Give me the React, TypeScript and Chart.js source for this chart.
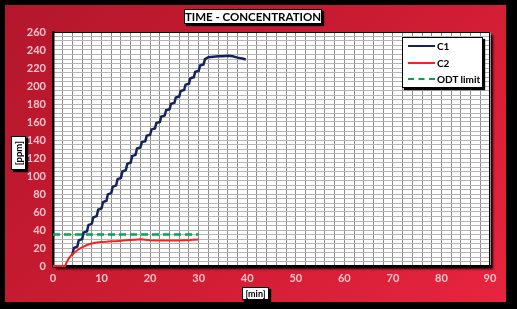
import React, { useEffect, useRef } from "react";
import { Chart, registerables } from "chart.js";

Chart.register(...registerables);

// ---- data ----
const c1Minutes = [
  3.8, 4.0, 4.3, 5.0, 5.3, 6.0, 6.3, 7.0, 7.3, 8.0, 8.3, 9.0, 9.3, 10.0, 10.3,
  11.0, 11.3, 12.0, 12.3, 13.0, 13.3, 14.0, 14.3, 15.0, 15.3, 16.0, 16.3, 17.0,
  17.3, 18.0, 18.3, 19.0, 19.3, 20.0, 20.3, 21.0, 21.3, 22.0, 22.3, 23.0, 23.3,
  24.0, 24.3, 25.0, 25.3, 26.0, 26.3, 27.0, 27.3, 28.0, 28.3, 29.0, 29.3, 30.0,
  30.3, 31.0, 31.3, 32.0, 33.0, 34.0, 35.0, 36.0, 37.0, 38.0, 39.0, 39.7,
];
const c1Ppm = [
  12, 13, 20, 21.5, 28.5, 30, 37, 38.5, 45.5, 47, 54, 55.5, 62.5, 64, 71,
  72.5, 79.5, 81, 88, 89.5, 96.5, 98, 105, 106.5, 113.5, 115, 122, 123.5,
  130.5, 131.6, 137.6, 138.7, 144.7, 145.8, 151.8, 152.9, 158.9, 160, 166, 167.1, 173.1,
  174.2, 180.2, 181.3, 187.3, 188.4, 194.4, 195.5, 201.5, 202.6, 208.6, 209.7, 215.7, 216.8,
  222.8, 223.9, 229.9, 232, 232.5, 233, 233, 233.5, 233, 231.5, 230.5, 229.5,
];
const c2Minutes = [
  0, 1, 2, 2.5, 2.8, 3.2, 3.6, 4.2, 5, 5.6, 6.3, 7, 8, 9, 10, 11, 12, 13, 14,
  15, 16, 17, 18, 19, 20, 21, 22, 23, 24, 25, 26, 27, 28, 29, 30,
];
const c2Ppm = [
  0, 0, 0, 0, 4, 8, 11, 14, 17.5, 19.6, 21.5, 23.3, 25, 26.2, 26.8, 27, 27.4,
  27.6, 28, 28.5, 28.9, 29.3, 29.6, 29.2, 28.6, 28.4, 28.3, 28.3, 28.2, 28.3,
  28.4, 28.5, 28.7, 29.3, 29.5,
];
const odtMinutes = [0, 30];
const odtPpm = [35, 35];

const seriesNames = ["C1", "C2", "ODT limit"];
const chartTitle = "TIME - CONCENTRATION";
const xTitle = "[min]";
const yTitle = "[ppm]";
const xRange = [0, 90];
const yRange = [0, 260];

const colors = { c1: "#13235c", c2: "#ff1f1f", odt: "#00a650" };
const FONT = "Lato, 'Open Sans', sans-serif";

const toXY = (xs: number[], ys: number[]) => xs.map((x, i) => ({ x, y: ys[i] }));

const plotBg = {
  id: "plotBg",
  beforeDraw(chart: any) {
    const { ctx, chartArea: a } = chart;
    ctx.save();
    ctx.shadowColor = "rgba(0,0,0,0.9)";
    ctx.shadowOffsetX = 3;
    ctx.shadowOffsetY = 3;
    ctx.shadowBlur = 2;
    ctx.fillStyle = "#ffffff";
    ctx.fillRect(a.left, a.top, a.right - a.left, a.bottom - a.top);
    ctx.restore();
  },
  beforeDatasetsDraw(chart: any) {
    const { ctx, chartArea: a } = chart;
    ctx.save();
    ctx.strokeStyle = "#000";
    ctx.lineWidth = 1;
    ctx.strokeRect(a.left + 0.5, a.top + 0.5, a.right - a.left - 1, a.bottom - a.top - 1);
    ctx.restore();
  },
};

export default function App() {
  const ref = useRef<HTMLCanvasElement | null>(null);

  useEffect(() => {
    document.body.style.margin = "0";
    document.body.style.background = "#000";
    const canvas = ref.current!;
    const chart = new Chart(canvas, {
      type: "line",
      data: {
        datasets: [
          {
            label: seriesNames[0],
            data: toXY(c1Minutes, c1Ppm),
            borderColor: colors.c1,
            backgroundColor: colors.c1,
            borderWidth: 2.5,
            pointRadius: 0,
            order: 3,
            clip: 4,
          },
          {
            label: seriesNames[1],
            data: toXY(c2Minutes, c2Ppm),
            borderColor: colors.c2,
            backgroundColor: colors.c2,
            borderWidth: 2,
            pointRadius: 0,
            order: 2,
            clip: 4,
          },
          {
            label: seriesNames[2],
            data: toXY(odtMinutes, odtPpm),
            borderColor: colors.odt,
            backgroundColor: colors.odt,
            borderWidth: 2.5,
            borderDash: [7, 4],
            pointRadius: 0,
            order: 1,
            clip: 4,
          },
        ],
      },
      options: {
        responsive: false,
        animation: false,
        events: [],
        layout: { padding: { top: 32, right: 27, left: 0, bottom: 0 } },
        plugins: { legend: { display: false }, tooltip: { enabled: false } },
        scales: {
          x: {
            type: "linear",
            min: xRange[0],
            max: xRange[1],
            afterFit: (s: any) => {
              s.height = 43;
            },
            ticks: {
              stepSize: 2,
              autoSkip: false,
              maxRotation: 0,
              padding: 6,
              color: "#f7c3c9",
              font: { family: FONT, size: 11, weight: "bold" },
              callback: (v: any) => (Number(v) % 10 === 0 ? String(v) : ""),
            },
            grid: { color: "#8e8e8e", lineWidth: 1, drawTicks: false },
            border: { color: "#000", width: 2.5 },
          },
          y: {
            type: "linear",
            min: yRange[0],
            max: yRange[1],
            afterFit: (s: any) => {
              s.width = 53;
            },
            ticks: {
              stepSize: 5,
              autoSkip: false,
              padding: 7,
              color: "#f7c3c9",
              font: { family: FONT, size: 11, weight: "bold" },
              callback: (v: any) => (Number(v) % 20 === 0 ? String(v) : ""),
            },
            grid: { color: "#b4b4b4", lineWidth: 1, drawTicks: false },
            border: { color: "#000", width: 2.5 },
          },
        },
      },
      plugins: [plotBg],
    });
    return () => chart.destroy();
  }, []);

  const boxStyle: React.CSSProperties = {
    position: "absolute",
    background: "#fff",
    border: "1px solid #000",
    boxShadow: "2px 2px 1px #000",
    fontFamily: FONT,
    fontWeight: 700,
    color: "#000",
    boxSizing: "border-box",
    display: "flex",
    alignItems: "center",
    justifyContent: "center",
    whiteSpace: "nowrap",
    overflow: "hidden",
    lineHeight: 1,
  };

  const legendRow = (label: string, color: string, dashed: boolean, top: number) => (
    <div style={{ position: "absolute", left: 5, top, display: "flex", alignItems: "center", height: 12 }}>
      <div
        style={{
          width: 27,
          height: 0,
          borderTop: dashed ? `2.5px dashed ${color}` : `2px solid ${color}`,
        }}
      />
      <span style={{ marginLeft: 2, fontSize: 10, fontWeight: 700, fontFamily: FONT }}>{label}</span>
    </div>
  );

  return (
    <div style={{ position: "relative", width: 517, height: 309, background: "#000", overflow: "hidden" }}>
      <div
        style={{
          position: "absolute",
          left: 5,
          top: 5,
          width: 501,
          height: 297,
          background: "linear-gradient(135deg, #b3172c 0%, #c91b31 45%, #e8243f 100%)",
        }}
      />
      <canvas ref={ref} width={517} height={309} style={{ position: "absolute", left: 0, top: 0 }} />
      <div style={{ ...boxStyle, left: 184, top: 9, width: 138, height: 15, fontSize: 11.5 }}>{chartTitle}</div>
      <div style={{ ...boxStyle, left: 242, top: 287, width: 27, height: 13, fontSize: 9 }}>{xTitle}</div>
      <div style={{ ...boxStyle, left: 11, top: 136, width: 15, height: 34 }}>
        <span style={{ writingMode: "vertical-rl", transform: "rotate(180deg)", fontSize: 9.5 }}>{yTitle}</span>
      </div>
      <div style={{ ...boxStyle, left: 402, top: 37, width: 81, height: 51, display: "block" }}>
        {legendRow(seriesNames[0], colors.c1, false, 2)}
        {legendRow(seriesNames[1], colors.c2, false, 19)}
        {legendRow(seriesNames[2], colors.odt, true, 35)}
      </div>
    </div>
  );
}
